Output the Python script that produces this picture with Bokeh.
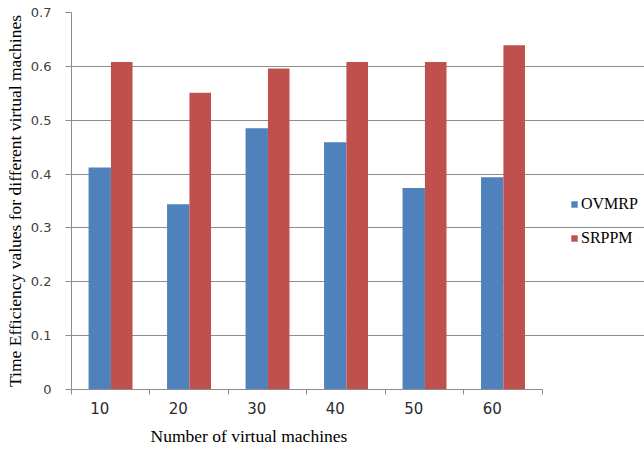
import numpy as np
from bokeh.plotting import figure
from bokeh.models import (ColumnDataSource, FixedTicker, Range1d, Legend, LegendItem, Title)
from bokeh.embed import file_html
from bokeh.resources import INLINE

# ---- data ----
vms = ["10", "20", "30", "40", "50", "60"]
ovmrp = [0.412, 0.344, 0.485, 0.459, 0.374, 0.394]
srppm = [0.608, 0.551, 0.596, 0.608, 0.608, 0.639]
y_ticks = [0, 0.1, 0.2, 0.3, 0.4, 0.5, 0.6, 0.7]

n = len(vms)
idx = np.arange(n)
src = ColumnDataSource(dict(
    x_o=idx + 0.5 - 0.14,
    x_s=idx + 0.5 + 0.14,
    ovmrp=ovmrp,
    srppm=srppm,
))

# the frame extends to the right edge so that the legend can live inside it;
# grid and axis are bounded to the category area
p = figure(width=644, height=453, output_backend="svg", toolbar_location=None,
           x_range=Range1d(0, n + 1.3), y_range=Range1d(0, 0.7),
           min_border_left=71, min_border_right=0, min_border_top=12, min_border_bottom=64)
p.outline_line_color = None
p.background_fill_color = "white"

BLUE = "#4F81BD"
RED = "#C0504D"
r1 = p.vbar(x="x_o", top="ovmrp", width=0.285, source=src, fill_color=BLUE, line_color=None)
r2 = p.vbar(x="x_s", top="srppm", width=0.275, source=src, fill_color=RED, line_color=None)

GRID = "#8c8c8c"
# y axis
p.yaxis.ticker = FixedTicker(ticks=y_ticks)
p.yaxis.major_label_overrides = {0: "0"}
p.yaxis.axis_line_color = GRID
p.yaxis.major_tick_line_color = GRID
p.yaxis.major_tick_out = 6
p.yaxis.major_tick_in = 0
p.yaxis.minor_tick_line_color = None
p.yaxis.major_label_standoff = 14
p.yaxis.major_label_text_font = "DejaVu Sans"
p.yaxis.major_label_text_font_size = "13px"
p.yaxis.major_label_text_color = "#404040"
p.yaxis.axis_label = "Time Efficiency values for different virtual machines"
p.yaxis.axis_label_text_font = "Liberation Serif"
p.yaxis.axis_label_text_font_size = "17.5px"
p.yaxis.axis_label_text_font_style = "normal"
p.yaxis.axis_label_text_color = "black"
p.yaxis.axis_label_standoff = 3

# x axis: labels under the blue bars, tick marks at category boundaries
label_pos = [float(v) for v in idx + 0.36]
p.xaxis.ticker = FixedTicker(ticks=label_pos, minor_ticks=[float(v) for v in range(n + 1)])
p.xaxis.major_label_overrides = {pos: lab for pos, lab in zip(label_pos, vms)}
p.xaxis.bounds = (0, n)
p.xaxis.major_tick_line_color = None
p.xaxis.major_tick_in = 0
p.xaxis.major_tick_out = 0
p.xaxis.minor_tick_line_color = GRID
p.xaxis.minor_tick_in = 0
p.xaxis.minor_tick_out = 5
p.xaxis.axis_line_color = GRID
p.xaxis.major_label_standoff = 7
p.xaxis.major_label_text_font = "DejaVu Sans"
p.xaxis.major_label_text_font_size = "15px"
p.xaxis.major_label_text_color = "#2b2b2b"

xt = Title(text="Number of virtual machines", align="left", offset=79,
           text_font="Liberation Serif", text_font_size="17.5px",
           text_font_style="normal", text_color="black", standoff=15)
p.add_layout(xt, "below")

p.xgrid.grid_line_color = None
p.ygrid.grid_line_color = GRID
p.ygrid.grid_line_width = 1
p.ygrid.bounds = (0, n)

legend = Legend(items=[LegendItem(label="OVMRP", renderers=[r1]),
                       LegendItem(label="SRPPM", renderers=[r2])],
                location=(499, 141))
legend.label_text_font = "Liberation Serif"
legend.label_text_font_size = "16px"
legend.label_text_color = "black"
legend.glyph_width = 8
legend.glyph_height = 8
legend.label_standoff = 3
legend.label_height = 20
legend.spacing = 14
legend.padding = 0
legend.margin = 0
legend.border_line_color = None
legend.background_fill_alpha = 0
p.add_layout(legend)

open("out.html", "w").write(file_html(p, INLINE))
